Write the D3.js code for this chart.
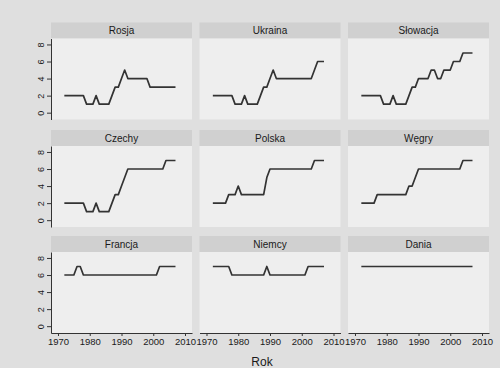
<!DOCTYPE html>
<html><head><meta charset="utf-8">
<script src="https://cdn.jsdelivr.net/npm/d3@7"></script>
<style>html,body{margin:0;padding:0;background:#e0e0e0;}svg{display:block;font-family:"Liberation Sans",Arial,sans-serif;}</style>
</head><body>
<svg id="c" width="500" height="368"></svg>
<script>
const years = [1972,1973,1974,1975,1976,1977,1978,1979,1980,1981,1982,1983,1984,1985,1986,1987,1988,1989,1990,1991,1992,1993,1994,1995,1996,1997,1998,1999,2000,2001,2002,2003,2004,2005,2006,2007];
const countries = ["Rosja","Ukraina","Słowacja","Czechy","Polska","Węgry","Francja","Niemcy","Dania"];
const rosja    = [2,2,2,2,2,2,2,1,1,1,2,1,1,1,1,2,3,3,4,5,4,4,4,4,4,4,4,3,3,3,3,3,3,3,3,3];
const ukraina  = [2,2,2,2,2,2,2,1,1,1,2,1,1,1,1,2,3,3,4,5,4,4,4,4,4,4,4,4,4,4,4,4,5,6,6,6];
const slowacja = [2,2,2,2,2,2,2,1,1,1,2,1,1,1,1,2,3,3,4,4,4,4,5,5,4,4,5,5,5,6,6,6,7,7,7,7];
const czechy   = [2,2,2,2,2,2,2,1,1,1,2,1,1,1,1,2,3,3,4,5,6,6,6,6,6,6,6,6,6,6,6,6,7,7,7,7];
const polska   = [2,2,2,2,2,3,3,3,4,3,3,3,3,3,3,3,3,5,6,6,6,6,6,6,6,6,6,6,6,6,6,6,7,7,7,7];
const wegry    = [2,2,2,2,2,3,3,3,3,3,3,3,3,3,3,4,4,5,6,6,6,6,6,6,6,6,6,6,6,6,6,6,7,7,7,7];
const francja  = [6,6,6,6,7,7,6,6,6,6,6,6,6,6,6,6,6,6,6,6,6,6,6,6,6,6,6,6,6,6,7,7,7,7,7,7];
const niemcy   = [7,7,7,7,7,7,6,6,6,6,6,6,6,6,6,6,6,7,6,6,6,6,6,6,6,6,6,6,6,6,7,7,7,7,7,7];
const dania    = [7,7,7,7,7,7,7,7,7,7,7,7,7,7,7,7,7,7,7,7,7,7,7,7,7,7,7,7,7,7,7,7,7,7,7,7];
const series = [rosja,ukraina,slowacja,czechy,polska,wegry,francja,niemcy,dania];
const xTicks = [1970,1980,1990,2000,2010];
const yTicks = [0,2,4,6,8];
const xTitle = "Rok";

const FONT = '"Liberation Sans", Arial, sans-serif';
const svg = d3.select("#c");
svg.append("rect").attr("width",500).attr("height",368).attr("fill","#dfdfdf");

const colLeft = [51,199.5,348], plotW = 141;
const rowTop = [38.5,146,252], plotH = 81, stripH = 16;

const x = d3.scaleLinear().domain([1967.8,2012.2]).range([0,plotW]);
const y = d3.scaleLinear().domain([-0.8,8.7]).range([plotH,0]);
const line = d3.line().x((d,i)=>x(years[i])).y(d=>y(d));

countries.forEach((name,k)=>{
  const r = Math.floor(k/3), c = k%3;
  const g = svg.append("g").attr("transform",`translate(${colLeft[c]},${rowTop[r]})`);
  g.append("rect").attr("x",0).attr("y",-stripH).attr("width",plotW).attr("height",stripH).attr("fill","#d0d0d0");
  g.append("text").attr("x",plotW/2).attr("y",-stripH/2).attr("dy","0.35em")
    .attr("text-anchor","middle").attr("font-size","10px").attr("fill","#1a1a1a").attr("font-family",FONT).text(name);
  g.append("rect").attr("width",plotW).attr("height",plotH).attr("fill","#eeeeee");
  g.append("path").datum(series[k]).attr("d",line).attr("fill","none")
    .attr("stroke","#333").attr("stroke-width",1.7).attr("stroke-linejoin","round");
  if (c===0) {
    const ya = g.append("g").call(d3.axisLeft(y).tickValues(yTicks).tickSize(4).tickSizeOuter(0));
    ya.select(".domain").attr("stroke","#333");
    ya.selectAll(".tick line").attr("stroke","#333");
    ya.selectAll(".tick text").attr("transform","rotate(-90)").attr("x",0).attr("y",-7).attr("dy",0)
      .attr("text-anchor","middle").attr("font-size","9px").attr("fill","#1a1a1a").attr("font-family",FONT);
  }
  if (r===2) {
    const xa = g.append("g").attr("transform",`translate(0,${plotH})`)
      .call(d3.axisBottom(x).tickValues(xTicks).tickFormat(d3.format("d")).tickSize(3).tickSizeOuter(0));
    xa.select(".domain").attr("stroke","#333");
    xa.selectAll(".tick line").attr("stroke","#333");
    xa.selectAll(".tick text").attr("font-size","9.5px").attr("fill","#1a1a1a").attr("y",5)
      .attr("font-family",FONT);
  }
});

svg.append("text").attr("x",262).attr("y",366).attr("text-anchor","middle")
  .attr("font-size","12px").attr("fill","#1a1a1a").attr("font-family",FONT).text(xTitle);
</script>
</body></html>
